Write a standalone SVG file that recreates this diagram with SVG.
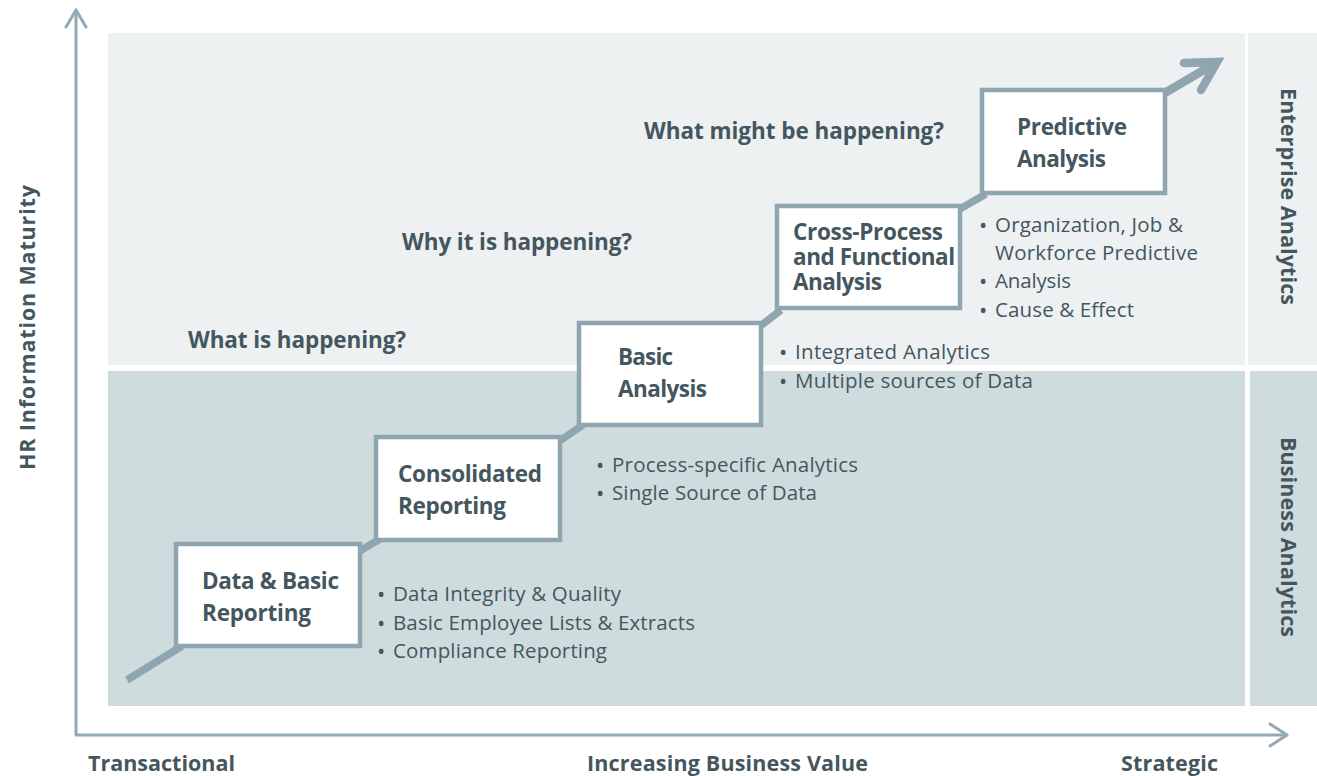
<svg xmlns="http://www.w3.org/2000/svg" width="1317" height="776" viewBox="0 0 1317 776">
  <style>
    .title { font-family: "Open Sans", Lato, "Liberation Sans", sans-serif; font-weight: 700; font-size: 22.5px; fill: #44565e; }
    .axis { font-family: "Open Sans", Lato, "Liberation Sans", sans-serif; font-weight: 700; font-size: 21.5px; fill: #44565e; }
    .bul { font-family: "Open Sans", Lato, "Liberation Sans", sans-serif; font-weight: 400; font-size: 20.5px; fill: #44565e; }
    .dot { font-family: "Open Sans", Lato, "Liberation Sans", sans-serif; font-weight: 400; font-size: 22px; fill: #44565e; }
    .box { fill: #ffffff; stroke: #8fa5b0; stroke-width: 4.5; }
    .stair { fill: none; stroke: #8fa5b0; stroke-width: 7.5; }
    .axline { fill: none; stroke: #94a9b3; stroke-width: 3; stroke-linecap: round; stroke-linejoin: round; }
  </style>

  <!-- background bands -->
  <g id="bands">
    <rect x="108" y="33" width="1137" height="332" fill="#edf1f2"/>
    <rect x="108" y="371" width="1137" height="335" fill="#cfdcde"/>
    <rect x="1248" y="33" width="69" height="332" fill="#edf1f2"/>
    <rect x="1250" y="371" width="67" height="335" fill="#cfdcde"/>
  </g>

  <!-- axes -->
  <g id="axes">
    <polyline class="axline" points="76,10 76,735 1286,735"/>
    <polyline class="axline" points="66,27 76,10 86,27"/>
    <polyline class="axline" points="1270,724 1287,735 1270,746"/>
  </g>

  <!-- staircase connectors -->
  <g id="connectors">
    <line class="stair" x1="127" y1="680" x2="182" y2="646"/>
    <line class="stair" x1="358" y1="552" x2="380" y2="539"/>
    <line class="stair" x1="558" y1="442" x2="583" y2="425"/>
    <line class="stair" x1="759" y1="327" x2="781" y2="310"/>
    <line class="stair" x1="958" y1="210" x2="986" y2="194"/>
    <line x1="1163" y1="94" x2="1214" y2="64" stroke="#8fa5b0" stroke-width="8.5" stroke-linecap="round"/>
    <polyline points="1184,63 1217,62 1201,90" fill="none" stroke="#8fa5b0" stroke-width="8.5" stroke-linecap="round" stroke-linejoin="miter"/>
  </g>

  <g id="node-data">
    <rect class="box" x="176" y="544" width="184" height="102"/>
    <text class="title" x="202" y="589" textLength="137">Data &amp; Basic</text>
    <text class="title" x="202" y="621" textLength="109">Reporting</text>
  </g>

  <g id="node-consolidated">
    <rect class="box" x="376" y="437" width="184" height="103"/>
    <text class="title" x="398" y="482" textLength="144">Consolidated</text>
    <text class="title" x="398" y="514" textLength="108">Reporting</text>
  </g>

  <g id="node-basic">
    <rect class="box" x="579" y="323" width="182" height="102"/>
    <text class="title" x="618" y="365" textLength="55">Basic</text>
    <text class="title" x="618" y="397" textLength="89">Analysis</text>
  </g>

  <g id="node-cross">
    <rect class="box" x="777" y="206" width="183" height="102"/>
    <text class="title" x="793" y="240" textLength="150">Cross-Process</text>
    <text class="title" x="793" y="265" textLength="162">and Functional</text>
    <text class="title" x="793" y="290" textLength="89">Analysis</text>
  </g>

  <g id="node-predictive">
    <rect class="box" x="982" y="90" width="183" height="103"/>
    <text class="title" x="1017" y="135" textLength="110">Predictive</text>
    <text class="title" x="1017" y="167" textLength="89">Analysis</text>
  </g>

  <!-- stage questions -->
  <g id="questions">
    <text class="title" x="644" y="139" textLength="300">What might be happening?</text>
    <text class="title" x="402" y="250" textLength="230">Why it is happening?</text>
    <text class="title" x="188" y="348" textLength="218">What is happening?</text>
  </g>

  <!-- bullet lists -->
  <g id="bullets">
    <text class="dot" x="377" y="602">•</text>
    <text class="bul" x="393" y="601" textLength="228">Data Integrity &amp; Quality</text>
    <text class="dot" x="377" y="631">•</text>
    <text class="bul" x="393" y="630" textLength="302">Basic Employee Lists &amp; Extracts</text>
    <text class="dot" x="377" y="659">•</text>
    <text class="bul" x="393" y="658" textLength="214">Compliance Reporting</text>

    <text class="dot" x="596" y="473">•</text>
    <text class="bul" x="612" y="472" textLength="246">Process-specific Analytics</text>
    <text class="dot" x="596" y="501">•</text>
    <text class="bul" x="612" y="500" textLength="205">Single Source of Data</text>

    <text class="dot" x="779" y="360">•</text>
    <text class="bul" x="795" y="359" textLength="195">Integrated Analytics</text>
    <text class="dot" x="779" y="389">•</text>
    <text class="bul" x="795" y="388" textLength="238">Multiple sources of Data</text>

    <text class="dot" x="979" y="233">•</text>
    <text class="bul" x="995" y="232" textLength="188">Organization, Job &amp;</text>
    <text class="bul" x="995" y="260" textLength="203">Workforce Predictive</text>
    <text class="dot" x="979" y="289">•</text>
    <text class="bul" x="995" y="288" textLength="76">Analysis</text>
    <text class="dot" x="979" y="318">•</text>
    <text class="bul" x="995" y="317" textLength="139">Cause &amp; Effect</text>
  </g>

  <!-- axis and band labels -->
  <g id="labels">
    <text class="axis" x="88" y="771" textLength="147">Transactional</text>
    <text class="axis" x="587" y="771" textLength="281">Increasing Business Value</text>
    <text class="axis" x="1121" y="771" textLength="97">Strategic</text>
    <text class="axis" transform="translate(35,470) rotate(-90)" textLength="285">HR Information Maturity</text>
    <text class="axis" transform="translate(1281,88) rotate(90)" textLength="217">Enterprise Analytics</text>
    <text class="axis" transform="translate(1281,437) rotate(90)" textLength="200">Business Analytics</text>
  </g>
</svg>
